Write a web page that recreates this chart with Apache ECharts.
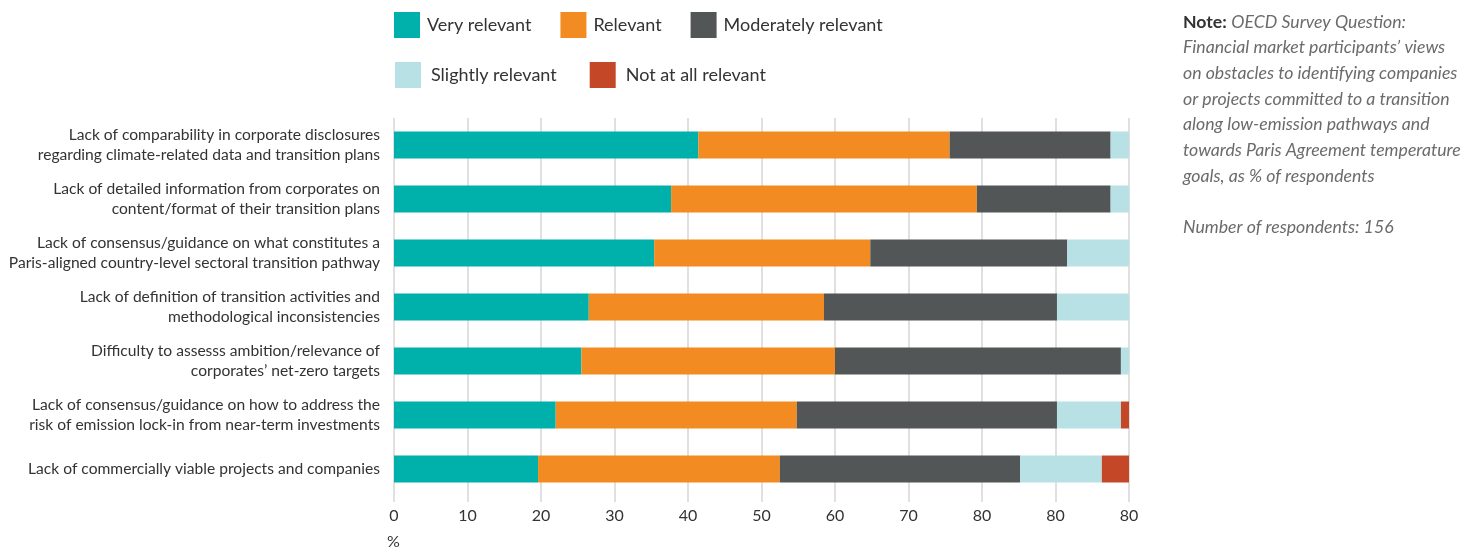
<!DOCTYPE html>
<html>
<head>
<meta charset="utf-8">
<script src="https://cdn.jsdelivr.net/npm/echarts@6/dist/echarts.min.js"></script>
<style>html,body{margin:0;padding:0;background:#fff}#c{width:1481px;height:550px}</style>
</head>
<body>
<div id="c"></div>
<script>
const categories = [
  "Lack of comparability in corporate disclosures\nregarding climate-related data and transition plans",
  "Lack of detailed information from corporates on\ncontent/format of their transition plans",
  "Lack of consensus/guidance on what constitutes a\nParis-aligned country-level sectoral transition pathway",
  "Lack of definition of transition activities and\nmethodological inconsistencies",
  "Difficulty to assesss ambition/relevance of\ncorporates\u2019 net-zero targets",
  "Lack of consensus/guidance on how to address the\nrisk of emission lock-in from near-term investments",
  "Lack of commercially viable projects and companies"
];
const veryRelevant       = [41.4, 37.7, 35.4, 26.5, 25.5, 22.0, 19.6];
const relevant           = [34.2, 41.6, 29.4, 32.0, 34.5, 32.8, 32.9];
const moderatelyRelevant = [21.9, 18.2, 26.8, 31.7, 38.9, 35.4, 32.7];
const slightlyRelevant   = [2.5, 2.5, 8.4, 9.8, 1.1, 8.7, 11.1];
const notAtAllRelevant   = [0, 0, 0, 0, 0, 1.1, 3.7];
const tickLabels = ["0","10","20","30","40","50","60","70","80","80","80"];
const seriesNames = ["Very relevant","Relevant","Moderately relevant","Slightly relevant","Not at all relevant"];
const colors = ["#00b0ab","#f28b21","#525657","#b8e1e5","#c44828"];

const FONT = "Lato";
const dataSets = [veryRelevant, relevant, moderatelyRelevant, slightlyRelevant, notAtAllRelevant];

const chart = echarts.init(document.getElementById('c'));
chart.setOption({
  animation: false,
  color: colors,
  textStyle: {fontFamily: FONT},
  legend: [
    {data: seriesNames.slice(0,3), left: 394, top: 12, padding: 0, itemWidth: 26, itemHeight: 26, itemGap: 29,
     icon: 'rect', textStyle: {fontSize: 18, color: '#333', fontFamily: FONT, padding: [0,0,0,2]}},
    {data: seriesNames.slice(3), left: 395, top: 62, padding: 0, itemWidth: 26, itemHeight: 26, itemGap: 33,
     icon: 'rect', textStyle: {fontSize: 18, color: '#333', fontFamily: FONT, padding: [0,0,0,5]}}
  ],
  grid: {left: 394, right: 352, top: 118, bottom: 54},
  xAxis: {
    type: 'value', min: 0, max: 100, interval: 10,
    axisLine: {show: false},
    axisTick: {show: true, length: 6, lineStyle: {color: '#e0e0e0', width: 2}},
    splitLine: {show: true, lineStyle: {color: '#e0e0e0', width: 2}},
    axisLabel: {fontSize: 16, color: '#333', fontFamily: FONT, margin: 12,
      formatter: v => tickLabels[Math.round(v/10)]}
  },
  yAxis: {
    type: 'category', data: categories, inverse: true,
    axisLine: {show: false}, axisTick: {show: false},
    axisLabel: {fontSize: 15.6, color: '#333', fontFamily: FONT, margin: 14, lineHeight: 20, align: 'right'}
  },
  graphic: [
    {type: 'text', left: 387, top: 534, style: {text: '%', fontSize: 16, fill: '#333', fontFamily: FONT}},
    {type: 'text', left: 1183, top: 9, style: {
      text: '{b|Note:} {i|OECD Survey Question:}\n{i|Financial market participants\u2019 views}\n{i|on obstacles to identifying companies}\n{i|or projects committed to a transition}\n{i|along low-emission pathways and}\n{i|towards Paris Agreement temperature}\n{i|goals, as % of respondents}\n\n{i|Number of respondents: 156}',
      fontFamily: FONT, fontSize: 17.7, lineHeight: 25.7,
      rich: {
        b: {fontWeight: 'bold', fontSize: 17.7, fill: '#333', fontFamily: FONT, lineHeight: 25.7},
        i: {fontStyle: 'italic', fontSize: 17.7, fill: '#6b6b6b', fontFamily: FONT, lineHeight: 25.7}
      }
    }}
  ],
  series: seriesNames.map((n, i) => ({
    name: n, type: 'bar', stack: 'total', data: dataSets[i], barWidth: 27,
    itemStyle: {color: colors[i]}
  }))
});
</script>
</body>
</html>
